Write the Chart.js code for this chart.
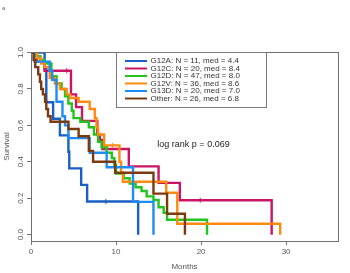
<!DOCTYPE html>
<html>
<head>
<meta charset="utf-8">
<script src="https://cdn.jsdelivr.net/npm/chart.js@4.4.0/dist/chart.umd.min.js"></script>
<style>
  html, body { margin: 0; padding: 0; background: #fff; }
</style>
</head>
<body>
<canvas id="km" width="350" height="273"></canvas>
<script>
// Gruppen, Fallzahlen, Mediane
var groups = ["G12A", "G12C", "G12D", "G12V", "G13D", "Other"];
var groupN = [11, 20, 47, 36, 20, 26];
var groupMed = ["4.4", "8.4", "8.0", "8.6", "7.0", "6.8"];
var groupColors = ["#1a5fc4", "#cc1466", "#22c41e", "#ff8a12", "#1e8cf5", "#7a3a0e"];

// Kaplan-Meier Stufen (Monate / Überleben) pro Gruppe
var g12aTime = [0, 1.6, 1.8, 2.6, 3.4, 4.4, 4.5, 5.9, 6.6, 12.6];
var g12aSurv = [1, 0.909, 0.727, 0.636, 0.545, 0.455, 0.364, 0.273, 0.182, 0];
var g12aCens = [8.8];

var g12cTime = [0, 0.7, 1.6, 4.7, 5.3, 6.0, 7.8, 8.1, 8.4, 11.5, 15.0, 17.5, 28.3];
var g12cSurv = [1, 0.95, 0.9, 0.77, 0.70, 0.625, 0.55, 0.52, 0.47, 0.375, 0.284, 0.189, 0];
var g12cCens = [4.2, 19.9];

var g12dTime = [0, 0.5, 1.1, 1.6, 2.4, 3.0, 3.6, 4.0, 4.4, 4.8, 5.0, 5.8, 6.8, 7.4, 7.9, 8.3, 8.9, 9.5, 9.8, 10.0, 10.9, 11.6, 12.3, 13.0, 13.6, 14.4, 15.0, 15.6, 16.0, 20.7];
var g12dSurv = [1, 0.98, 0.96, 0.94, 0.87, 0.83, 0.80, 0.76, 0.72, 0.68, 0.64, 0.62, 0.59, 0.55, 0.51, 0.48, 0.45, 0.42, 0.38, 0.335, 0.31, 0.28, 0.26, 0.24, 0.21, 0.19, 0.15, 0.12, 0.082, 0];
var g12dCens = [];

var g12vTime = [0, 0.7, 1.2, 1.6, 2.2, 2.8, 3.4, 4.2, 4.6, 5.6, 6.9, 7.5, 7.7, 7.9, 8.6, 10.4, 10.6, 10.8, 15.9, 17.2, 29.3];
var g12vSurv = [1, 0.97, 0.94, 0.92, 0.86, 0.83, 0.80, 0.77, 0.75, 0.73, 0.69, 0.64, 0.59, 0.55, 0.49, 0.40, 0.34, 0.29, 0.23, 0.06, 0];
var g12vCens = [9.6, 14.9];

var g13dTime = [0, 0.4, 2.2, 2.5, 3.0, 3.7, 4.0, 4.4, 6.9, 8.9, 12.0, 14.4];
var g13dSurv = [1, 0.95, 0.9, 0.85, 0.73, 0.65, 0.60, 0.53, 0.45, 0.37, 0.18, 0];
var g13dCens = [];

var otherTime = [0, 0.3, 0.5, 0.85, 1.05, 1.2, 1.4, 1.65, 1.8, 2.0, 2.3, 4.4, 5.6, 6.8, 7.3, 9.9, 14.4, 16.0, 18.1];
var otherSurv = [1, 0.96, 0.92, 0.88, 0.84, 0.80, 0.77, 0.73, 0.69, 0.65, 0.62, 0.58, 0.54, 0.46, 0.40, 0.34, 0.225, 0.115, 0];
var otherCens = [];

// Achsen
var xTicks = [0, 10, 20, 30];
var yTicks = [0, 0.2, 0.4, 0.6, 0.8, 1.0];
var pText = "log rank p = 0.069";

var allTimes = [g12aTime, g12cTime, g12dTime, g12vTime, g13dTime, otherTime];
var allSurv = [g12aSurv, g12cSurv, g12dSurv, g12vSurv, g13dSurv, otherSurv];
var allCens = [g12aCens, g12cCens, g12dCens, g12vCens, g13dCens, otherCens];

var fontFam = "'Liberation Sans', Arial, sans-serif";

function survAt(t, times, surv) {
  var s = 1;
  for (var i = 0; i < times.length; i++) {
    if (times[i] <= t) s = surv[i];
  }
  return s;
}

// Datasets bauen
var datasets = [];
for (var g = 0; g < groups.length; g++) {
  var pts = [];
  for (var i = 0; i < allTimes[g].length; i++) {
    pts.push({ x: allTimes[g][i], y: allSurv[g][i] });
  }
  datasets.push({
    label: groups[g] + ": N = " + groupN[g] + ", med = " + groupMed[g],
    data: pts,
    borderColor: groupColors[g],
    borderWidth: 2.4,
    stepped: 'before',
    pointRadius: 0,
    fill: false,
    order: (groups.length - g) * 2
  });
  if (allCens[g].length) {
    var cpts = [];
    for (var c = 0; c < allCens[g].length; c++) {
      cpts.push({ x: allCens[g][c], y: survAt(allCens[g][c], allTimes[g], allSurv[g]) });
    }
    datasets.push({
      label: "",
      data: cpts,
      showLine: false,
      borderColor: groupColors[g],
      pointStyle: 'line',
      rotation: 90,
      pointRadius: 2.5,
      pointBorderWidth: 1,
      order: (groups.length - g) * 2 - 1
    });
  }
}

// Rahmen, Legende und Texte
var extrasPlugin = {
  id: 'extras',
  afterDraw: function (chart) {
    var ctx = chart.ctx;
    var a = chart.chartArea;
    ctx.save();
    ctx.strokeStyle = '#6f6f6f';
    ctx.lineWidth = 1;
    ctx.strokeRect(Math.round(a.left) + 0.5, Math.round(a.top) + 0.5,
      Math.round(a.right - a.left), Math.round(a.bottom - a.top));

    // Legende
    var lx = 116.5, ly = 52.5, lw = 150, lh = 55;
    ctx.fillStyle = '#fff';
    ctx.fillRect(lx, ly, lw, lh);
    ctx.strokeStyle = '#7a7a7a';
    ctx.strokeRect(lx, ly, lw, lh);
    ctx.font = '8px ' + fontFam;
    ctx.textBaseline = 'middle';
    ctx.textAlign = 'left';
    for (var g = 0; g < groups.length; g++) {
      var ry = 61 + g * 7.5;
      ctx.strokeStyle = groupColors[g];
      ctx.lineWidth = 2;
      ctx.beginPath();
      ctx.moveTo(125, ry);
      ctx.lineTo(147, ry);
      ctx.stroke();
      ctx.fillStyle = '#333';
      ctx.fillText(groups[g] + ": N = " + groupN[g] + ", med = " + groupMed[g], 150.5, ry);
    }

    // p-Wert
    ctx.font = '9px ' + fontFam;
    ctx.textAlign = 'center';
    ctx.fillStyle = '#222';
    ctx.fillText(pText, 193.5, 145);

    // Panel-Buchstabe
    ctx.font = '6px ' + fontFam;
    ctx.textAlign = 'left';
    ctx.fillStyle = '#666';
    ctx.fillText('a', 2, 8);
    ctx.restore();
  }
};

var ctx = document.getElementById('km');
var kmChart = new Chart(ctx, {
  type: 'line',
  data: { datasets: datasets },
  options: {
    responsive: false,
    animation: false,
    devicePixelRatio: 1,
    layout: { padding: { top: 52, right: 12, left: 0, bottom: 0 } },
    plugins: {
      legend: { display: false },
      tooltip: { enabled: false }
    },
    scales: {
      x: {
        type: 'linear',
        min: 0,
        max: 36.1,
        afterBuildTicks: function (s) { s.ticks = xTicks.map(function (v) { return { value: v }; }); },
        afterFit: function (s) { s.height = 32; },
        grid: { drawOnChartArea: false, drawTicks: true, tickLength: 4, color: '#777' },
        border: { display: true, color: '#777' },
        ticks: { color: '#555', font: { size: 8, family: fontFam }, padding: 2, maxRotation: 0 },
        title: { display: true, text: 'Months', color: '#555', font: { size: 8, family: fontFam }, padding: { top: 0, bottom: 1 } }
      },
      y: {
        type: 'linear',
        min: -0.035,
        max: 1.003,
        afterBuildTicks: function (s) { s.ticks = yTicks.map(function (v) { return { value: v }; }); },
        afterFit: function (s) { s.width = 31; },
        grid: { drawOnChartArea: false, drawTicks: true, tickLength: 4, color: '#777' },
        border: { display: true, color: '#777' },
        ticks: {
          color: '#555', font: { size: 8, family: fontFam }, padding: 1,
          minRotation: 90, maxRotation: 90, crossAlign: 'center',
          callback: function (v) { return v.toFixed(1); }
        },
        title: { display: true, text: 'Survival', color: '#555', font: { size: 8, family: fontFam }, padding: { top: 2, bottom: 0 } }
      }
    }
  },
  plugins: [extrasPlugin]
});
</script>
</body>
</html>
